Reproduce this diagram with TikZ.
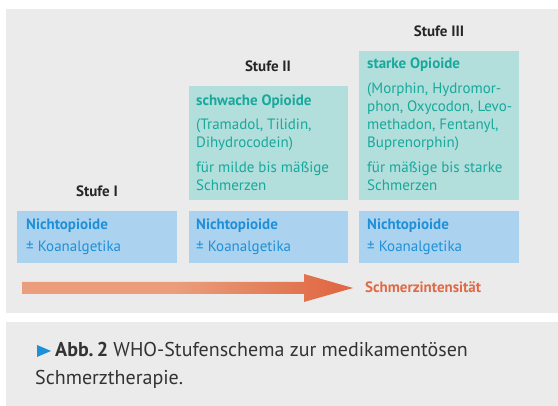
\documentclass[tikz,border=0pt]{standalone}
\usepackage{fontspec}
\setmainfont{PT Sans}
\definecolor{panelgray}{HTML}{EAEBEA}
\definecolor{tealbox}{HTML}{B2DEDC}
\definecolor{tealtext}{HTML}{17A99C}
\definecolor{bluebox}{HTML}{ABD3F0}
\definecolor{bluetext}{HTML}{1F90D8}
\definecolor{arrowlight}{HTML}{EA9E7C}
\definecolor{arrowdark}{HTML}{E06A45}
\definecolor{darktext}{HTML}{262626}
\definecolor{captiontext}{HTML}{333333}
\pgfdeclarehorizontalshading{arrowshade}{100bp}{color(0bp)=(arrowlight); color(48bp)=(arrowlight); color(72bp)=(arrowdark); color(100bp)=(arrowdark)}
\begin{document}
\begin{tikzpicture}[x=1pt,y=-1pt,
  txt/.style={anchor=base west, inner sep=0pt, font=\fontsize{15}{18}\selectfont},
  tealhead/.style={txt, text=tealtext, font=\fontsize{15}{18}\selectfont\bfseries},
  tealbody/.style={txt, text=tealtext},
  bluehead/.style={txt, text=bluetext, font=\fontsize{15}{18}\selectfont\bfseries},
  bluebody/.style={txt, text=bluetext},
  stufe/.style={anchor=base, inner sep=0pt, text=darktext, font=\fontsize{15}{18}\selectfont\bfseries},
  captxt/.style={anchor=base west, inner sep=0pt, text=captiontext, font=\fontsize{20}{24}\selectfont}
]
\useasboundingbox (0,0) rectangle (558,406);
\fill[white] (0,0) rectangle (558,406);
% panels
\fill[panelgray] (6,9) rectangle (558,313);
\fill[panelgray] (6,322) rectangle (558,406);

% boxes
\fill[tealbox] (189,86) rectangle (348,200);
\fill[tealbox] (359,51) rectangle (519,200);
\fill[bluebox] (17,211) rectangle (177,263);
\fill[bluebox] (189,211) rectangle (348,263);
\fill[bluebox] (359,211) rectangle (519,263);

% step labels
\node[stufe] (s1) at (97,197) {Stufe I};
\node[stufe] (s2) at (268,72) {Stufe II};
\node[stufe] (s3) at (439,37) {Stufe III};

% stage II text
\node[tealhead] (t2a) at (196,106) {schwache Opioide};
\node[tealbody] (t2b) at (196,130) {(Tramadol, Tilidin,};
\node[tealbody] (t2c) at (196,148) {Dihydrocodein)};
\node[tealbody] (t2d) at (196,173) {für milde bis mäßige};
\node[tealbody] (t2e) at (196,191) {Schmerzen};

% stage III text
\node[tealhead] (t3a) at (367,69) {starke Opioide};
\node[tealbody] (t3b) at (367,94) {(Morphin, Hydromor-};
\node[tealbody] (t3c) at (367,112) {phon, Oxycodon, Levo-};
\node[tealbody] (t3d) at (367,130) {methadon, Fentanyl,};
\node[tealbody] (t3e) at (367,148) {Buprenorphin)};
\node[tealbody] (t3f) at (367,173) {für mäßige bis starke};
\node[tealbody] (t3g) at (367,191) {Schmerzen};

% nonopioid boxes
\node[bluehead] (n1a) at (26,230) {Nichtopioide};
\node[bluebody] (n1b) at (26,252) {± Koanalgetika};
\node[bluehead] (n2a) at (196,230) {Nichtopioide};
\node[bluebody] (n2b) at (196,252) {± Koanalgetika};
\node[bluehead] (n3a) at (367,230) {Nichtopioide};
\node[bluebody] (n3b) at (367,252) {± Koanalgetika};

% arrow
\shade[shading=arrowshade] (22,282) -- (304,282) -- (304,274) -- (353,288) -- (304,302) -- (304,294) -- (22,294) -- cycle;
\node[anchor=base west, inner sep=0pt, text=arrowdark, font=\fontsize{15}{18}\selectfont\bfseries] (si) at (365,293) {Schmerzintensität};

% caption
\fill[bluetext] (37,345) -- (51,351) -- (37,357) -- cycle;
\node[captxt] (c1) at (55,357) {\textbf{Abb.\,2} WHO-Stufenschema zur medikamentösen};
\node[captxt] (c2) at (35,385) {Schmerztherapie.};
\end{tikzpicture}
\end{document}
